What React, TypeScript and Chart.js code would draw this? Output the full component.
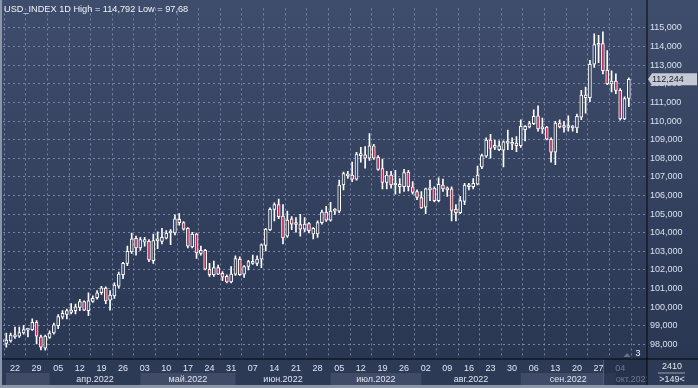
import React, { useEffect, useRef } from "react";
import { Chart, registerables } from "chart.js";

Chart.register(...registerables);

// ---- data (daily candles, USD_INDEX, 17 Mar 2022 .. 06 Oct 2022) ----
const opens = [
  98.14, 98.05, 98.18, 98.40, 98.44, 98.61, 98.76, 98.79, 99.18, 98.40,
  97.79, 98.37, 98.61, 99.00, 99.46, 99.60, 99.72, 99.81, 99.98, 100.30,
  99.81, 100.30, 100.51, 100.77, 101.02, 100.37, 100.60, 101.12, 101.74, 102.35,
  102.97, 103.70, 103.18, 103.49, 103.53, 102.49, 103.56, 103.53, 103.70, 103.98,
  103.98, 104.72, 104.54, 104.23, 103.23, 103.93, 102.88, 103.05, 102.04, 101.74,
  102.12, 101.82, 101.65, 101.35, 101.77, 102.58, 101.77, 102.18, 102.35, 102.35,
  102.58, 103.32, 104.16, 105.25, 105.51, 104.89, 103.81, 104.75, 104.44, 104.44,
  104.19, 104.49, 103.93, 103.93, 104.54, 105.11, 104.67, 105.16, 105.16, 106.56,
  107.05, 107.09, 106.88, 108.14, 108.18, 108.00, 108.67, 108.05, 107.44, 106.70,
  107.09, 106.56, 106.47, 106.47, 107.26, 106.47, 106.21, 105.89, 105.37, 106.30,
  106.39, 105.72, 106.56, 106.30, 106.35, 105.25, 105.07, 105.68, 106.47, 106.47,
  106.60, 107.53, 108.11, 108.98, 108.58, 108.46, 108.44, 108.81, 108.75, 108.81,
  108.67, 109.54, 109.68, 109.86, 110.28, 109.58, 109.68, 109.02, 108.32, 109.89,
  109.65, 109.65, 109.63, 109.63, 110.21, 111.26, 111.26, 113.05, 114.07, 114.16,
  112.74, 112.00, 112.14, 111.65, 110.11, 111.21,
];
const highs = [
  98.42, 98.61, 98.61, 98.93, 98.93, 99.02, 98.84, 99.37, 99.28, 98.49,
  98.49, 98.72, 99.14, 99.60, 99.81, 99.89, 100.19, 100.16, 100.42, 100.33,
  100.77, 100.60, 100.89, 101.12, 101.09, 100.89, 101.30, 101.88, 102.40, 103.28,
  103.98, 103.81, 103.75, 103.75, 103.63, 103.93, 104.05, 104.23, 104.11, 104.16,
  104.96, 105.02, 104.60, 104.28, 104.02, 103.98, 103.28, 103.11, 102.35, 102.47,
  102.26, 101.91, 101.74, 102.18, 102.75, 102.70, 102.23, 102.51, 102.79, 102.75,
  103.40, 104.23, 105.33, 105.60, 105.81, 105.51, 105.16, 104.86, 104.81, 104.98,
  104.81, 104.54, 104.28, 104.63, 105.21, 105.42, 105.63, 105.30, 106.82, 107.26,
  107.30, 107.79, 108.32, 108.58, 108.63, 109.33, 108.75, 108.14, 107.96, 107.30,
  107.30, 107.35, 106.91, 107.40, 107.35, 106.74, 106.30, 106.21, 106.39, 106.82,
  106.47, 106.95, 106.88, 106.47, 106.47, 105.51, 105.95, 106.65, 106.65, 106.91,
  107.58, 108.23, 109.10, 109.28, 108.98, 108.93, 108.93, 109.51, 109.10, 109.16,
  110.07, 109.75, 109.98, 110.60, 110.81, 110.16, 109.72, 109.10, 109.98, 110.07,
  109.98, 110.28, 109.75, 110.37, 111.65, 111.82, 113.26, 114.68, 114.60, 114.792,
  113.79, 112.70, 112.53, 111.74, 111.30, 112.32,
];
const lows = [
  98.02, 97.84, 98.11, 98.32, 98.37, 98.54, 98.40, 98.75, 98.02, 97.70,
  97.68, 98.32, 98.54, 98.84, 99.37, 99.37, 99.63, 99.63, 99.81, 99.81,
  99.54, 100.25, 100.42, 100.68, 100.19, 99.84, 100.47, 101.03, 101.53, 102.23,
  102.88, 102.79, 103.05, 103.28, 102.44, 102.35, 103.14, 103.40, 103.67, 103.35,
  103.88, 104.40, 104.14, 103.18, 103.18, 102.61, 102.79, 102.00, 101.65, 101.65,
  101.74, 101.42, 101.30, 101.30, 101.70, 101.70, 101.60, 102.00, 102.30, 102.23,
  102.12, 103.02, 104.11, 104.63, 104.75, 103.40, 103.75, 104.16, 104.02, 103.81,
  104.05, 103.98, 103.67, 103.75, 104.46, 104.60, 104.62, 104.98, 105.07, 106.30,
  106.91, 106.74, 106.82, 107.79, 107.47, 107.88, 107.93, 107.35, 106.35, 106.35,
  106.39, 106.07, 106.12, 106.21, 106.25, 106.07, 105.77, 105.30, 105.02, 105.72,
  105.65, 105.65, 106.21, 105.95, 104.63, 104.63, 105.02, 105.51, 106.30, 106.35,
  106.56, 107.44, 108.05, 108.00, 108.46, 108.40, 107.53, 108.46, 108.46, 108.35,
  108.58, 108.93, 109.63, 109.81, 109.46, 109.33, 108.98, 107.79, 107.65, 109.63,
  109.40, 109.46, 109.46, 109.37, 110.07, 110.42, 111.04, 112.88, 113.14, 112.53,
  111.96, 111.56, 111.47, 110.04, 110.07, 110.77,
];
const closes = [
  98.25, 98.23, 98.49, 98.49, 98.63, 98.79, 98.80, 99.18, 98.44, 97.84,
  98.44, 98.61, 99.05, 99.49, 99.67, 99.81, 99.84, 100.02, 100.30, 99.84,
  100.33, 100.47, 100.77, 101.03, 100.33, 100.65, 101.18, 101.77, 102.35, 103.00,
  103.67, 103.18, 103.63, 103.63, 102.53, 103.58, 103.63, 103.75, 103.98, 104.02,
  104.75, 104.54, 104.19, 103.28, 103.93, 102.91, 103.05, 102.04, 101.74, 102.12,
  101.77, 101.61, 101.35, 101.77, 102.61, 101.74, 102.18, 102.44, 102.40, 102.58,
  103.35, 104.19, 105.25, 105.51, 104.86, 103.72, 104.68, 104.46, 104.51, 104.19,
  104.46, 104.11, 104.23, 104.54, 105.11, 104.67, 105.16, 105.25, 106.56, 107.18,
  107.14, 106.88, 108.23, 108.23, 108.00, 108.67, 108.00, 107.40, 106.70, 107.09,
  106.56, 106.60, 106.60, 107.23, 106.47, 106.16, 105.89, 105.33, 106.35, 106.39,
  105.72, 106.60, 106.35, 106.39, 105.19, 105.07, 105.72, 106.56, 106.56, 106.65,
  107.09, 108.14, 108.98, 108.53, 108.67, 108.67, 108.88, 108.84, 108.84, 108.67,
  109.72, 109.72, 109.86, 110.25, 109.58, 109.68, 109.02, 108.32, 109.89, 109.68,
  109.72, 109.70, 109.70, 110.25, 111.39, 111.39, 113.05, 114.11, 114.14, 112.70,
  112.00, 112.14, 111.65, 110.11, 111.21, 112.244,
];

const weekLabels = [
  "22", "29", "05", "12", "19", "26", "03", "10", "17", "24", "31", "07", "14", "21", "28",
  "05", "12", "19", "26", "02", "09", "16", "23", "30", "06", "13", "20", "27", "04",
];
const firstWeekIndex = 3; // candle index of the first week label (Tue 22 Mar)
const monthLabels = ["апр.2022", "май.2022", "июн.2022", "июл.2022", "авг.2022", "сен.2022", "окт.2022"];
const monthStarts = [11, 32, 54, 76, 97, 120, 142];
const priceTicks = [98, 99, 100, 101, 102, 103, 104, 105, 106, 107, 108, 109, 110, 111, 112, 113, 114, 115];
const lastPrice = 112.244;
const titleText = "USD_INDEX 1D High = 114,792 Low = 97,68";
const panelTop = "2410";
const panelBottom = ">149<";
const markerText = "3";

const FONT = '"Liberation Sans", Arial, sans-serif';
const fmt = (v: number) => v.toFixed(3).replace(".", ",");

const decorPlugin = {
  id: "decor",
  beforeDraw(chart: any) {
    const { ctx, width, height, chartArea } = chart;
    ctx.save();
    const g = ctx.createLinearGradient(0, 0, 0, chartArea.bottom);
    g.addColorStop(0, "#3f4d6c");
    g.addColorStop(1, "#2a3753");
    ctx.fillStyle = g;
    ctx.fillRect(0, 0, width, chartArea.bottom);
    ctx.fillStyle = "#2d3a56";
    ctx.fillRect(0, chartArea.bottom, width, height - chartArea.bottom);
    ctx.restore();
  },
  afterDraw(chart: any) {
    const { ctx, width, height, chartArea } = chart;
    const xs = chart.scales.x;
    const ys = chart.scales.y;
    ctx.save();

    // month bands
    const bandTop = 373;
    const bandBottom = 385;
    ctx.save();
    ctx.beginPath();
    ctx.rect(chartArea.left, bandTop, chartArea.right - chartArea.left, bandBottom - bandTop);
    ctx.clip();
    const starts = [-1, ...monthStarts];
    ctx.font = `9px ${FONT}`;
    ctx.textAlign = "center";
    ctx.textBaseline = "middle";
    for (let k = 0; k < starts.length; k++) {
      const x0 = k === 0 ? chartArea.left + 3 : xs.getPixelForValue(starts[k]);
      const x1 = k + 1 < starts.length ? xs.getPixelForValue(starts[k + 1]) : xs.getPixelForValue(150);
      if (k % 2 === 0) {
        ctx.fillStyle = "#3f4b67";
        ctx.fillRect(x0, bandTop, x1 - x0, bandBottom - bandTop);
      }
      if (k >= 1) {
        ctx.fillStyle = "#dfe5ef";
        ctx.fillText(monthLabels[k - 1], (x0 + x1) / 2, (bandTop + bandBottom) / 2 + 0.5);
      }
    }
    ctx.restore();

    // dim overlay box over the last date
    ctx.fillStyle = "rgba(34,45,70,0.62)";
    ctx.fillRect(603, chartArea.bottom + 0.5, chartArea.right - 603, bandBottom - chartArea.bottom);
    ctx.fillStyle = "rgba(120,132,158,0.5)";
    ctx.fillRect(603, chartArea.bottom + 0.5, 1, bandBottom - chartArea.bottom);

    // separators
    ctx.fillStyle = "#05070c";
    ctx.fillRect(0, Math.round(chartArea.bottom) - 0.5, width, 1);
    ctx.fillRect(Math.round(chartArea.right) - 0.5, 0, 1, bandBottom);

    // marker
    ctx.fillStyle = "rgba(150,160,182,0.55)";
    ctx.beginPath();
    ctx.moveTo(623.5, 357);
    ctx.lineTo(630.5, 357);
    ctx.lineTo(627, 353);
    ctx.closePath();
    ctx.fill();
    ctx.fillStyle = "#f2f4f8";
    ctx.font = `9px ${FONT}`;
    ctx.textAlign = "center";
    ctx.textBaseline = "middle";
    ctx.fillText(markerText, 638, 353.5);

    // right-bottom panel
    ctx.fillStyle = "#e2e7f0";
    ctx.fillText(panelTop, 672, 367);
    ctx.fillText(panelBottom, 672, 380);
    ctx.fillStyle = "rgba(200,208,222,0.7)";
    ctx.fillRect(658, 372.5, 27, 1);

    // last price tag
    const py = ys.getPixelForValue(lastPrice);
    ctx.fillStyle = "#c4cad4";
    ctx.beginPath();
    ctx.moveTo(chartArea.right + 1, py);
    ctx.lineTo(chartArea.right + 5, py - 6);
    ctx.lineTo(width - 1, py - 6);
    ctx.lineTo(width - 1, py + 6);
    ctx.lineTo(chartArea.right + 5, py + 6);
    ctx.closePath();
    ctx.fill();
    ctx.fillStyle = "#1b2030";
    ctx.textAlign = "left";
    ctx.fillText(fmt(lastPrice), chartArea.right + 5, py + 0.5);

    // title
    ctx.fillStyle = "#f0f3f8";
    ctx.textBaseline = "alphabetic";
    ctx.font = `9.2px ${FONT}`;
    ctx.fillText(titleText, 4, 11.5);

    // outer frame
    ctx.fillStyle = "#8b96ab";
    ctx.fillRect(0, 0, 2, height);
    ctx.fillRect(0, bandBottom, width, height - bandBottom);
    ctx.restore();
  },
};

export default function App() {
  const ref = useRef<HTMLCanvasElement>(null);

  useEffect(() => {
    const canvas = ref.current;
    if (!canvas) return;
    const wickData = opens.map((_, i) => ({ x: i, y: [lows[i], highs[i]] }));
    const bodyData = opens.map((o, i) => ({ x: i, y: [Math.min(o, closes[i]), Math.max(o, closes[i])] }));
    const bodyColors = opens.map((o, i) => (closes[i] >= o ? "#34425f" : "#b8294f"));
    const gridColor = "rgba(128,145,178,0.85)";

    const chart = new Chart(canvas, {
      type: "bar",
      data: {
        datasets: [
          {
            label: "wick",
            data: wickData as any,
            backgroundColor: "#ffffff",
            borderWidth: 0,
            barThickness: 1,
            grouped: false,
            order: 2,
            clip: 0,
          } as any,
          {
            label: "body",
            data: bodyData as any,
            backgroundColor: bodyColors,
            borderColor: "#ffffff",
            borderWidth: 1,
            borderSkipped: false,
            barThickness: 3,
            minBarLength: 2,
            grouped: false,
            order: 1,
            clip: 0,
          } as any,
        ],
      },
      options: {
        animation: false,
        responsive: false,
        maintainAspectRatio: false,
        devicePixelRatio: 1,
        layout: { padding: { left: 3, top: 1, right: 0, bottom: 0 } },
        plugins: {
          legend: { display: false },
          tooltip: { enabled: false },
          title: { display: false },
        },
        scales: {
          x: {
            type: "linear",
            position: "bottom",
            min: 0.23,
            max: 149.2,
            offset: false,
            afterBuildTicks: (s: any) => {
              s.ticks = weekLabels.map((_, k) => ({ value: firstWeekIndex + 5 * k }));
            },
            afterFit: (s: any) => {
              s.height = 29;
            },
            ticks: {
              autoSkip: false,
              maxRotation: 0,
              minRotation: 0,
              padding: 4,
              color: "#dfe5ef",
              font: { family: FONT, size: 9 },
              callback: (v: any) => weekLabels[Math.round((Number(v) - firstWeekIndex) / 5)] ?? "",
            },
            grid: { color: gridColor, lineWidth: 1, drawTicks: false },
            border: { display: false, dash: [2, 3] },
          },
          y: {
            type: "linear",
            position: "right",
            min: 97.2105,
            max: 116.0526,
            afterBuildTicks: (s: any) => {
              s.ticks = priceTicks.map((v) => ({ value: v }));
            },
            afterFit: (s: any) => {
              s.width = 51;
            },
            ticks: {
              padding: 3,
              color: "#d9e0ec",
              font: { family: FONT, size: 9 },
              callback: (v: any) => fmt(Number(v)),
            },
            grid: { color: gridColor, lineWidth: 1, drawTicks: false },
            border: { display: false, dash: [2, 3] },
          },
        },
      } as any,
      plugins: [decorPlugin],
    });
    return () => chart.destroy();
  }, []);

  return (
    <div style={{ position: "fixed", left: 0, top: 0, width: 698, height: 388 }}>
      <canvas ref={ref} width={698} height={388} style={{ display: "block", width: 698, height: 388 }} />
    </div>
  );
}
